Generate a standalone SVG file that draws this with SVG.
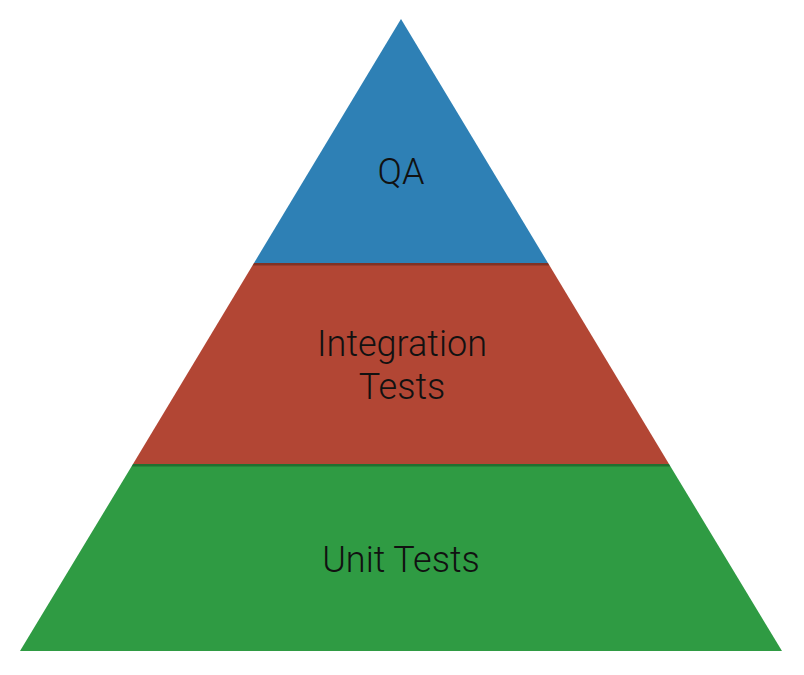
<svg xmlns="http://www.w3.org/2000/svg" width="804" height="675" viewBox="0 0 804 675">
  <defs>
    <style>
      .lbl { font-family: Roboto, "Liberation Sans", sans-serif; font-weight: 300; font-size: 36px; fill: #111; text-anchor: middle; }
      .shade { fill: #000; opacity: 0.28; }
    </style>
  </defs>
  <rect width="804" height="675" fill="#fff"/>
  <g id="unit">
    <polygon points="133,464 669,464 782,651 20,651" fill="#2f9b43"/>
    <text class="lbl" x="401" y="572">Unit Tests</text>
  </g>
  <g id="integration">
    <polygon points="254,263 548,263 669,464 133,464" fill="#b24634"/>
    <polygon class="shade" points="133,464 669,464 670.5,466.5 131.5,466.5"/>
    <text class="lbl" x="402" y="356">Integration</text>
    <text class="lbl" x="402" y="399">Tests</text>
  </g>
  <g id="qa">
    <polygon points="401,19 548,263 254,263" fill="#2e80b5"/>
    <polygon class="shade" points="254,263 548,263 549.5,265.5 252.5,265.5"/>
    <text class="lbl" x="401" y="184">QA</text>
  </g>
</svg>
